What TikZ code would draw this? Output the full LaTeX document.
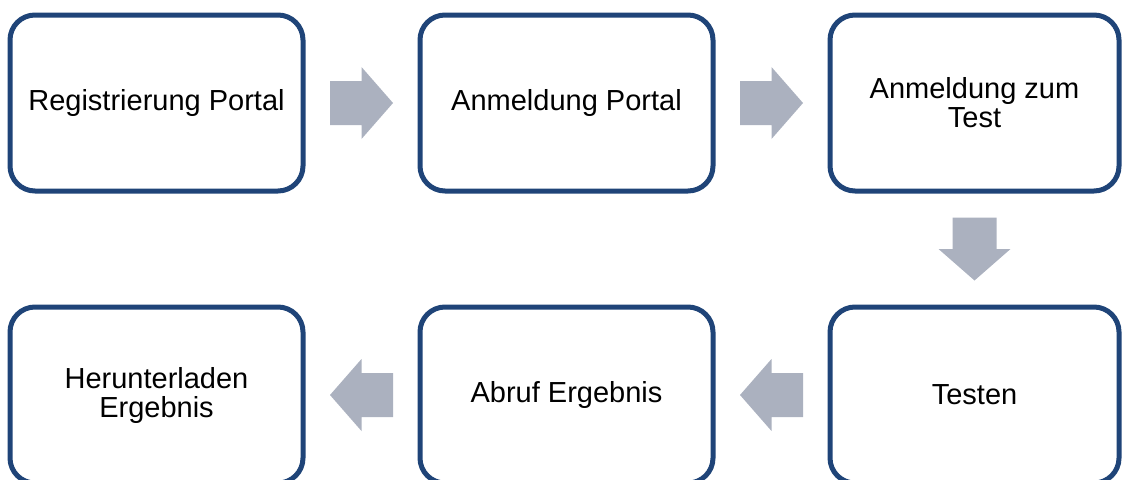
\documentclass[tikz,border=0pt]{standalone}
\usepackage{fontspec}
\setmainfont{Liberation Sans}
\usetikzlibrary{calc}
\definecolor{boxblue}{RGB}{31,68,120}
\definecolor{arrowgray}{RGB}{171,177,191}
\tikzset{
  stepbox/.style={draw=boxblue, line width=5pt, rounded corners=25pt, fill=white,
    minimum width=293pt, minimum height=176pt, align=center, inner sep=0pt,
    font=\fontsize{29}{29}\selectfont},
  pics/blockarrow/.style={code={
    \fill[arrowgray] (-31.5,-22) -- (0,-22) -- (0,-36) -- (31.5,0) -- (0,36) -- (0,22) -- (-31.5,22) -- cycle;}}
}
\begin{document}
\begin{tikzpicture}[x=1pt,y=-1pt]
\useasboundingbox (0,0) rectangle (1123,479);
\clip (0,0) rectangle (1123,479);
\node[stepbox] (b1) at (156.5,103) {Registrierung Portal};
\node[stepbox] (b2) at (566.5,103) {Anmeldung Portal};
\node[stepbox, minimum width=289pt] (b3) at (974.5,103) {Anmeldung zum\\Test};
\node[stepbox, minimum width=289pt] (b6) at (974.5,395) {Testen};
\node[stepbox] (b5) at (566.5,395) {Abruf Ergebnis};
\node[stepbox] (b4) at (156.5,395) {Herunterladen\\Ergebnis};
\pic at ($(b1.east)!0.5!(b2.west)$) {blockarrow};
\pic at ($(b2.east)!0.5!(b3.west)$) {blockarrow};
\pic[rotate=-90] at ($(b3.south)!0.5!(b6.north)$) {blockarrow};
\pic[rotate=180] at ($(b6.west)!0.5!(b5.east)$) {blockarrow};
\pic[rotate=180] at ($(b5.west)!0.5!(b4.east)$) {blockarrow};
\end{tikzpicture}
\end{document}
